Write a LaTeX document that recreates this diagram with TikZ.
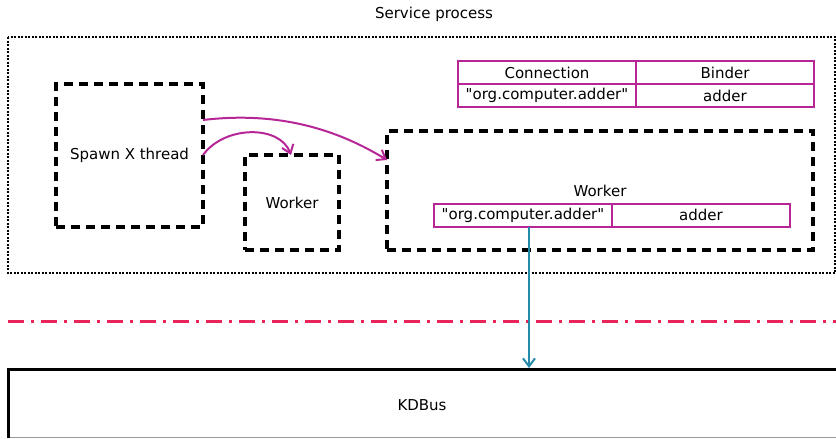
\documentclass[tikz,border=0pt]{standalone}
\usepackage{fontspec}
\setmainfont{DejaVu Sans}[Ligatures=TeXOff]
\usetikzlibrary{arrows.meta}
\definecolor{mag}{RGB}{182,38,150}
\definecolor{teal2}{RGB}{36,140,170}
\definecolor{redl}{RGB}{232,36,90}
\begin{document}
\begin{tikzpicture}[x=1pt,y=-1pt,
  lbl/.style={font=\fontsize{15}{17}\selectfont, inner sep=0pt},
  dbox/.style={draw=black, line width=3.2pt, dash pattern=on 9pt off 6pt},
  cell/.style={draw=mag, line width=2pt, minimum height=23pt, inner sep=0pt, font=\fontsize{15}{17}\selectfont},
  marrow/.style={draw=mag, line width=2pt, -{Straight Barb[length=8pt,width=12pt]}},
]
\useasboundingbox (0,0) rectangle (836,439);
\clip (0,0) rectangle (836,439);
\node[lbl] (title) at (434,14) {Service process};
\draw[line width=2.3pt, dash pattern=on 2pt off 1.5pt] (8,37) rectangle (835,273);
\node[dbox, minimum width=147pt, minimum height=143pt, inner sep=0pt] (spawn) at (129.5,155.5) {};
\node[lbl] at (spawn) {Spawn X thread};
\node[dbox, minimum width=94pt, minimum height=95pt, inner sep=0pt] (w1) at (292,202.5) {};
\node[lbl] at (w1) {Worker};
\node[dbox, minimum width=426pt, minimum height=119pt, inner sep=0pt] (w2) at (600,190.5) {};
\node[lbl] (w2l) at (600,191) {Worker};
% top table
\node[cell, minimum width=178pt] (c1) at (547,72.5) {Connection};
\node[cell, minimum width=178pt] (c2) at (725,72.5) {Binder};
\node[cell, minimum width=178pt] (c3) at (547,95.5) {"org.computer.adder"};
\node[cell, minimum width=178pt] (c4) at (725,95.5) {adder};
% inner table
\node[cell, minimum width=178pt] (i1) at (523,215) {"org.computer.adder"};
\node[cell, minimum width=178pt] (i2) at (701,215) {adder};
% arrows
\coordinate (s1) at (203,120);
\coordinate (s2) at (203,155);
\coordinate (e1) at (387,160);
\coordinate (e2) at (291,155);
\draw[marrow] (s1) .. controls (270,112) and (330,125) .. (e1);
\draw[marrow] (s2) .. controls (225,125) and (280,125) .. (e2);
% dash-dot line
\coordinate (r1) at (8,321);
\coordinate (r2) at (836,321);
\draw[redl, line width=3pt, dash pattern=on 16pt off 7pt on 3pt off 7pt] (r1) -- (r2);
% KDBus
\draw[black!40, line width=1pt] (8,437.5) -- (840,437.5);
\draw[black, line width=3pt] (8,438) -- (8,369) -- (840,369);
\node[lbl] (kd) at (422,405) {KDBus};
\coordinate (kt) at (529,368);
\draw[teal2, line width=2pt, -{Straight Barb[length=8pt,width=12pt]}] (529,227) -- (kt);
\end{tikzpicture}
\end{document}
